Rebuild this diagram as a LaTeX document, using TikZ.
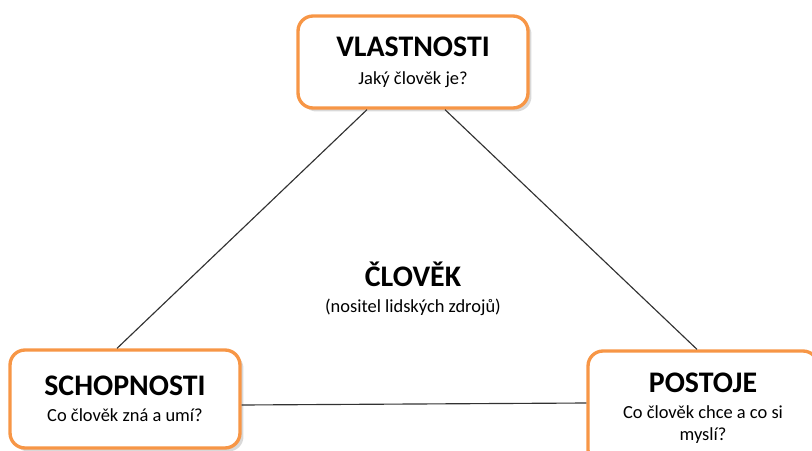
\documentclass[tikz,border=0pt]{standalone}
\usepackage{fontspec}
\setmainfont{Carlito}
\usetikzlibrary{shadows}
\definecolor{boxorange}{RGB}{247,150,70}
\definecolor{linegray}{RGB}{50,50,50}

\begin{document}
\begin{tikzpicture}[x=0.02cm,y=-0.02cm,
    box/.style={draw=boxorange, line width=1.9pt, rounded corners=0.3cm, fill=white,
      minimum width=4.6cm, align=center,
      drop shadow={opacity=0.3, shadow xshift=0.07cm, shadow yshift=-0.07cm}},
    link/.style={draw=linegray, line width=0.65pt}]
\useasboundingbox (0,0) rectangle (812,450);
\clip (0,0) rectangle (812,450);

\node[box, minimum height=1.84cm] (vlast) at (413,62)
  {{\bfseries\fontsize{17}{20}\selectfont VLASTNOSTI}\\[4pt]
   {\fontsize{10.5}{13}\selectfont Jaký člověk je?}};
\node[box, minimum height=1.96cm] (schop) at (125,399)
  {{\bfseries\fontsize{17}{20}\selectfont SCHOPNOSTI}\\[3pt]
   {\fontsize{10.5}{13}\selectfont Co člověk zná a umí?}};
\node[box, minimum height=2.28cm] (post) at (703,408)
  {{\bfseries\fontsize{17}{20}\selectfont POSTOJE}\\[3pt]
   {\fontsize{10.5}{13}\selectfont Co člověk chce a co si}\\
   {\fontsize{10.5}{13}\selectfont myslí?}};

\node[align=center] (clovek) at (413,289)
  {{\bfseries\fontsize{17}{20}\selectfont ČLOVĚK}\\[3pt]
   {\fontsize{10.5}{13}\selectfont (nositel lidských zdrojů)}};

\draw[link] ([xshift=-0.92cm]vlast.south) -- ([xshift=-0.16cm]schop.north);
\draw[link] ([xshift=0.64cm]vlast.south) -- ([xshift=-0.12cm]post.north);
\draw[link] ([yshift=-0.12cm]schop.east) -- ([yshift=0.1cm]post.west);

\end{tikzpicture}
\end{document}
